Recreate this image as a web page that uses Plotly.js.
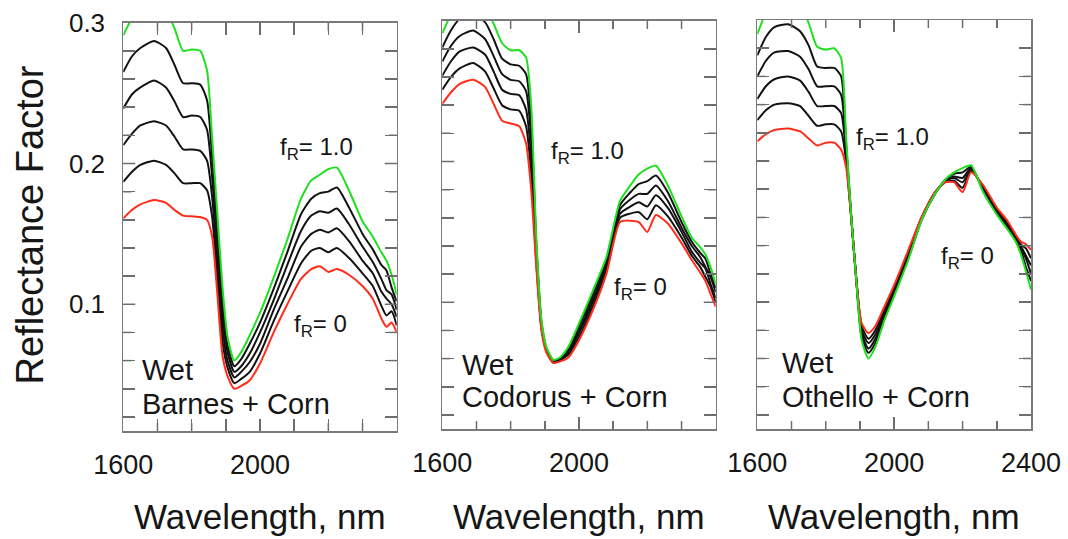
<!DOCTYPE html>
<html><head><meta charset="utf-8">
<script src="https://cdn.plot.ly/plotly-3.0.1.min.js"></script>
<style>html,body{margin:0;padding:0;background:#fff}#chart{width:1068px;height:539px}</style>
</head><body><div id="chart"></div>
<script>
// ---------- data ----------
const wavelength = [1600,1625,1650,1690,1725,1750,1775,1800,1825,1845,1860,1875,1890,1905,1925,1945,1970,2000,2040,2080,2120,2150,2175,2200,2225,2260,2300,2330,2355,2370,2385,2400];
const fRLabels = ['1.0','0.8','0.6','0.4','0.2','0'];

// Wet Barnes + Corn
const barnesR10 = [.291,.303,.310,.315,.309,.296,.280,.281,.280,.266,.218,.165,.113,.077,.060,.066,.078,.094,.119,.146,.175,.188,.192,.196,.197,.181,.159,.148,.137,.131,.121,.107];
const barnesR08 = [.265,.276,.282,.287,.282,.270,.257,.257,.256,.245,.204,.154,.103,.071,.056,.061,.072,.087,.111,.137,.164,.175,.179,.180,.183,.169,.150,.139,.128,.124,.112,.102];
const barnesR06 = [.239,.249,.254,.259,.254,.244,.233,.234,.233,.224,.190,.142,.093,.066,.052,.056,.065,.080,.103,.128,.152,.163,.166,.165,.168,.157,.141,.130,.118,.110,.107,.096];
const barnesR04 = [.213,.221,.227,.230,.227,.219,.210,.210,.209,.202,.176,.131,.084,.060,.048,.052,.059,.072,.096,.118,.141,.150,.153,.151,.154,.145,.131,.122,.109,.104,.100,.091];
const barnesR02 = [.187,.194,.199,.202,.199,.193,.186,.186,.186,.181,.162,.119,.074,.055,.044,.047,.052,.065,.088,.109,.129,.138,.140,.137,.140,.133,.122,.113,.099,.092,.095,.085];
const barnesR00 = [.161,.167,.171,.174,.172,.167,.163,.1625,.162,.160,.148,.108,.064,.049,.040,.042,.046,.058,.080,.100,.118,.125,.127,.123,.125,.121,.113,.104,.090,.084,.087,.080];

// Wet Codorus + Corn
const codorusR10 = [.291,.304,.312,.316,.310,.298,.284,.279,.279,.274,.240,.146,.088,.068,.059,.061,.069,.085,.108,.132,.172,.183,.191,.195,.197,.183,.161,.146,.139,.134,.125,.113];
const codorusR08 = [.281,.293,.301,.304,.299,.287,.273,.269,.268,.262,.228,.142,.086,.067,.059,.060,.067,.083,.105,.130,.169,.178,.184,.186,.190,.178,.157,.143,.135,.131,.120,.110];
const codorusR06 = [.271,.282,.289,.293,.287,.275,.262,.258,.257,.250,.216,.138,.085,.066,.058,.060,.066,.080,.102,.127,.166,.173,.177,.177,.183,.172,.153,.140,.132,.125,.118,.107];
const codorusR04 = [.261,.271,.278,.281,.276,.264,.251,.248,.247,.237,.204,.133,.083,.066,.058,.059,.064,.078,.100,.125,.163,.168,.171,.168,.176,.167,.150,.136,.128,.124,.113,.103];
const codorusR02 = [.251,.260,.266,.270,.264,.252,.240,.237,.236,.225,.192,.129,.082,.065,.057,.059,.063,.075,.097,.122,.160,.163,.164,.159,.169,.161,.146,.133,.125,.118,.111,.100];
const codorusR00 = [.241,.249,.255,.258,.253,.241,.229,.227,.225,.213,.180,.125,.080,.064,.057,.058,.061,.073,.094,.120,.157,.158,.157,.150,.162,.156,.142,.130,.121,.115,.106,.097];

// Wet Othello + Corn
const othelloR10 = [.290,.305,.313,.315,.310,.298,.281,.279,.280,.273,.215,.160,.113,.073,.060,.068,.086,.104,.129,.158,.177,.187,.192,.195,.197,.178,.162,.152,.143,.134,.122,.109];
const othelloR08 = [.275,.288,.295,.297,.292,.282,.267,.266,.266,.260,.211,.160,.113,.075,.064,.071,.088,.106,.130,.158,.177,.187,.191,.192,.196,.179,.163,.153,.144,.137,.125,.115];
const othelloR06 = [.260,.271,.277,.278,.274,.265,.253,.253,.253,.247,.207,.159,.114,.078,.067,.074,.090,.107,.132,.159,.177,.186,.189,.188,.195,.180,.164,.154,.145,.138,.131,.120];
const othelloR04 = [.244,.253,.258,.260,.257,.249,.239,.239,.239,.234,.203,.159,.114,.080,.071,.077,.092,.109,.133,.159,.178,.186,.188,.185,.194,.181,.165,.156,.146,.140,.133,.126];
const othelloR02 = [.229,.236,.240,.241,.239,.232,.225,.226,.226,.221,.199,.158,.115,.083,.074,.080,.094,.110,.135,.160,.178,.185,.186,.181,.193,.182,.166,.157,.147,.141,.138,.131];
const othelloR00 = [.214,.219,.222,.223,.221,.216,.211,.213,.213,.208,.195,.158,.115,.085,.078,.083,.096,.112,.136,.160,.178,.185,.185,.178,.192,.183,.167,.158,.148,.143,.141,.137];

const xTickVals = [1600, 2000, 2400];
const xTickText = ['1600', '2000', ''];
const xTickTextLast = ['1600', '2000', '2400'];
const xMinorVals = [1700,1800,1900,2100,2200,2300];
const yTickVals = [0.1, 0.2, 0.3];
const yTickText = ['0.1', '0.2', '0.3'];
const yMinorVals = [0.02,0.04,0.06,0.08,0.12,0.14,0.16,0.18,0.22,0.24,0.26,0.28];
const panelLabels = ['Barnes + Corn', 'Codorus + Corn', 'Othello + Corn'];
const xTitle = 'Wavelength, nm';
const yTitle = 'Reflectance Factor';

// ---------- layout helpers ----------
const W = 1068, H = 539;
const px = v => v / W, py = v => 1 - v / H;
const FONT = 'Liberation Sans, Arial, Helvetica, sans-serif';
const TXT = '#161616';
const GREEN = '#1fe01f', RED = '#ff2d1a', BLACK = '#121212';
const TICKC = '#6e6e6e';
const MAJOR_LEN = 12, MINOR_LEN = 8;

const panels = [
  {series:[barnesR10,barnesR08,barnesR06,barnesR04,barnesR02,barnesR00], box:[123.3,396.7,22.7,431], wet:[140,370], lab:[140,404], f1:[278,148.6], f0:[292,325.6]},
  {series:[codorusR10,codorusR08,codorusR06,codorusR04,codorusR02,codorusR00], box:[442.3,715.7,20.7,429], wet:[460,365], lab:[460,397], f1:[549,152.6], f0:[612,288.3]},
  {series:[othelloR10,othelloR08,othelloR06,othelloR04,othelloR02,othelloR00], box:[757.3,1031,20,429], wet:[780,363], lab:[780,397], f1:[854,138.3], f0:[939,257.6]}
];

const traces = [];
const layout = {
  width: W, height: H,
  margin: {l:0, r:0, t:0, b:0},
  paper_bgcolor: '#fff', plot_bgcolor: 'rgba(0,0,0,0)',
  showlegend: false,
  font: {family: FONT, color: TXT},
  annotations: [],
  shapes: []
};

// frame axes: outline + inside ticks (major and minor) on all four sides
const frameAxis = {
  showline: true, linecolor: '#7a7a7a', linewidth: 1.5, mirror: 'allticks',
  showgrid: false, zeroline: false, fixedrange: true, showticklabels: false,
  tickmode: 'array', ticks: 'inside', ticklen: MAJOR_LEN, tickwidth: 1.5, tickcolor: TICKC
};
const minorStyle = {tickmode: 'array', ticks: 'inside', ticklen: MINOR_LEN};
const labelAxis = {
  showline: false, showgrid: false, zeroline: false, fixedrange: true,
  ticks: 'outside', tickcolor: 'rgba(0,0,0,0)', tickwidth: 1, tickmode: 'array'
};

const ann = (x, y, text, size, extra) => Object.assign({
  xref: 'paper', yref: 'paper', x: px(x), y: py(y), xanchor: 'left', yanchor: 'middle',
  text: text, showarrow: false, font: {family: FONT, size: size, color: TXT}
}, extra || {});

panels.forEach((p, i) => {
  const s = i === 0 ? '' : String(i + 1);
  const order = [1, 2, 3, 4, 5, 0]; // black mixtures, red (fR=0), green (fR=1.0) on top
  order.forEach(k => {
    const color = k === 0 ? GREEN : (k === 5 ? RED : BLACK);
    traces.push({
      x: wavelength, y: p.series[k], type: 'scatter', mode: 'lines',
      name: panelLabels[i] + ' fR=' + fRLabels[k],
      xaxis: 'x' + s, yaxis: 'y' + s,
      line: {color: color, width: 2, shape: 'spline', smoothing: 0.6},
      hoverinfo: 'skip'
    });
  });
  layout['xaxis' + s] = Object.assign({}, frameAxis, {
    domain: [px(p.box[0]), px(p.box[1])], range: [1600, 2400], anchor: 'y' + s,
    tickvals: xTickVals, minor: Object.assign({tickvals: xMinorVals}, minorStyle)
  });
  layout['yaxis' + s] = Object.assign({}, frameAxis, {
    domain: [py(p.box[3]), py(p.box[2])], range: [0.01, 0.3], anchor: 'x' + s,
    tickvals: yTickVals, minor: Object.assign({tickvals: yMinorVals}, minorStyle)
  });
  // the same tick marks as shapes placed through the axes (backup so they always show)
  const plotW = p.box[1] - p.box[0], plotH = p.box[3] - p.box[2];
  const line = {color: TICKC, width: 1.5};
  const xTick = (v, len) => {
    const f = len / plotH;
    layout.shapes.push({type:'line', xref:'x' + s, yref:'y' + s + ' domain', x0:v, x1:v, y0:0, y1:f, line, layer:'above'});
    layout.shapes.push({type:'line', xref:'x' + s, yref:'y' + s + ' domain', x0:v, x1:v, y0:1, y1:1 - f, line, layer:'above'});
  };
  const yTick = (v, len) => {
    const f = len / plotW;
    layout.shapes.push({type:'line', xref:'x' + s + ' domain', yref:'y' + s, x0:0, x1:f, y0:v, y1:v, line, layer:'above'});
    layout.shapes.push({type:'line', xref:'x' + s + ' domain', yref:'y' + s, x0:1, x1:1 - f, y0:v, y1:v, line, layer:'above'});
  };
  xTickVals.slice(1, 2).forEach(v => xTick(v, MAJOR_LEN));
  xMinorVals.forEach(v => xTick(v, MINOR_LEN));
  yTickVals.slice(0, 2).forEach(v => yTick(v, MAJOR_LEN));
  yMinorVals.forEach(v => yTick(v, MINOR_LEN));

  // tick labels on an overlaying axis, pushed away from the frame by a transparent tick
  const lx = 'xaxis' + (4 + i), lxId = 'x' + (4 + i);
  layout[lx] = Object.assign({}, labelAxis, {
    overlaying: 'x' + s, anchor: 'y' + s, side: 'bottom', range: [1600, 2400],
    tickvals: xTickVals, ticktext: i === 2 ? xTickTextLast : xTickText, ticklen: 10,
    tickfont: {family: FONT, size: 27, color: TXT}
  });
  traces.push({x: [null], y: [null], xaxis: lxId, yaxis: 'y' + s, type: 'scatter', mode: 'lines', hoverinfo: 'skip', showlegend: false});

  // x-axis title under each panel
  layout.annotations.push(ann((p.box[0] + p.box[1]) / 2, 516, xTitle, 35, {xanchor: 'center'}));
  layout.annotations.push(ann(p.wet[0], p.wet[1], 'Wet', 29));
  layout.annotations.push(ann(p.lab[0], p.lab[1], panelLabels[i], 29));
  layout.annotations.push(ann(p.f1[0], p.f1[1], 'f<sub>R</sub>= ' + fRLabels[0], 24));
  layout.annotations.push(ann(p.f0[0], p.f0[1], 'f<sub>R</sub>= ' + fRLabels[5], 24));
});

// y tick labels for the first panel
layout.yaxis4 = Object.assign({}, labelAxis, {
  overlaying: 'y', anchor: 'x', side: 'left', range: [0.01, 0.3],
  tickvals: yTickVals, ticktext: yTickText, ticklen: 12,
  tickfont: {family: FONT, size: 26, color: TXT}
});
traces.push({x: [null], y: [null], xaxis: 'x', yaxis: 'y4', type: 'scatter', mode: 'lines', hoverinfo: 'skip', showlegend: false});
// y-axis title
layout.annotations.push(ann(29.5, 225, yTitle, 38, {xanchor: 'center', textangle: -90}));

Plotly.newPlot('chart', traces, layout, {staticPlot: true, displayModeBar: false});
</script>
</body></html>
